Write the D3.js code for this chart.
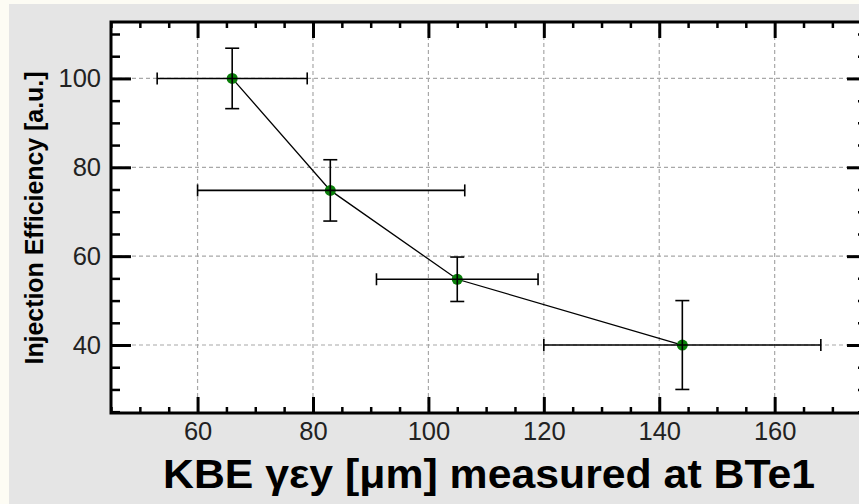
<!DOCTYPE html>
<html>
<head>
<meta charset="utf-8">
<script src="https://cdn.jsdelivr.net/npm/d3@7"></script>
<style>
  html, body { margin: 0; padding: 0; background: #fdfcf4; }
  svg { display: block; }
</style>
</head>
<body>
<svg id="chart"></svg>
<script>
// measured points (emittance vs efficiency)
var emitX = [66, 83, 105, 144];
var effY = [100, 74.8, 54.8, 40];
var effErr = [6.8, 6.9, 5, 10];
var emitLo = [53, 60, 91, 120];
var emitHi = [79, 106.3, 119, 168];

var xMajor = [60, 80, 100, 120, 140, 160];
var yMajor = [40, 60, 80, 100];

var W = 859, H = 504;
var plotL = 111, plotT = 22, plotB = 413, plotR = 867;

var svg = d3.select('#chart').attr('width', W).attr('height', H);

// grey panel
svg.append('rect').attr('x', 9).attr('y', 4).attr('width', W).attr('height', H).attr('fill', '#e5e5e5');
svg.append('rect').attr('x', plotL).attr('y', plotT).attr('width', plotR - plotL).attr('height', plotB - plotT).attr('fill', '#fff');

var x = d3.scaleLinear().domain([45, 176]).range([plotL, plotR]);
var y = d3.scaleLinear().domain([24.7, 112.7]).range([plotB, plotT]);

var xMinor = d3.range(45, 176, 5).filter(function(v) { return v % 20 != 0; });
var yMinor = d3.range(25, 113, 5).filter(function(v) { return v % 20 != 0; });

// grid
var grid = svg.append('g').attr('stroke', '#a8a8a8').attr('stroke-width', 1.2).attr('stroke-dasharray', '4,3');
grid.selectAll('.gx').data(xMajor).enter().append('line')
  .attr('x1', function(d) { return x(d); }).attr('x2', function(d) { return x(d); })
  .attr('y1', plotT).attr('y2', plotB);
grid.selectAll('.gy').data(yMajor).enter().append('line')
  .attr('y1', function(d) { return y(d); }).attr('y2', function(d) { return y(d); })
  .attr('x1', plotL).attr('x2', plotR);

function styleAxis(g, w) {
  g.select('.domain').remove();
  g.selectAll('.tick line').attr('stroke', '#000').attr('stroke-width', w);
  g.selectAll('.tick text')
    .attr('fill', '#222')
    .style('font-family', '"Liberation Sans", Arial, sans-serif')
    .style('font-size', '25.5px');
}

// bottom
svg.append('g').attr('transform', 'translate(0,' + plotB + ')')
  .call(d3.axisBottom(x).tickValues(xMajor).tickSize(-16).tickPadding(9).tickFormat(d3.format('d')))
  .call(styleAxis, 3);
svg.append('g').attr('transform', 'translate(0,' + plotB + ')')
  .call(d3.axisBottom(x).tickValues(xMinor).tickSize(-6).tickFormat(''))
  .call(styleAxis, 2.5);
// top
svg.append('g').attr('transform', 'translate(0,' + plotT + ')')
  .call(d3.axisTop(x).tickValues(xMajor).tickSize(-16).tickFormat(''))
  .call(styleAxis, 3);
svg.append('g').attr('transform', 'translate(0,' + plotT + ')')
  .call(d3.axisTop(x).tickValues(xMinor).tickSize(-6).tickFormat(''))
  .call(styleAxis, 2.5);
// left
svg.append('g').attr('transform', 'translate(' + plotL + ',0)')
  .call(d3.axisLeft(y).tickValues(yMajor).tickSize(-20).tickPadding(10).tickFormat(d3.format('d')))
  .call(styleAxis, 3);
svg.append('g').attr('transform', 'translate(' + plotL + ',0)')
  .call(d3.axisLeft(y).tickValues(yMinor).tickSize(-9).tickFormat(''))
  .call(styleAxis, 2.5);
// right
svg.append('g').attr('transform', 'translate(' + plotR + ',0)')
  .call(d3.axisRight(y).tickValues(yMajor).tickSize(-20).tickFormat(''))
  .call(styleAxis, 3);
svg.append('g').attr('transform', 'translate(' + plotR + ',0)')
  .call(d3.axisRight(y).tickValues(yMinor).tickSize(-9).tickFormat(''))
  .call(styleAxis, 2.5);

// frame
svg.append('rect').attr('x', plotL).attr('y', plotT).attr('width', plotR - plotL).attr('height', plotB - plotT)
  .attr('fill', 'none').attr('stroke', '#000').attr('stroke-width', 3);

var pts = emitX.map(function(v, i) { return {x: v, y: effY[i], e: effErr[i], lo: emitLo[i], hi: emitHi[i]}; });

// connecting line
svg.append('path').datum(pts)
  .attr('d', d3.line().x(function(d) { return x(d.x); }).y(function(d) { return y(d.y); }))
  .attr('fill', 'none').attr('stroke', '#000').attr('stroke-width', 1.3);

// markers
svg.selectAll('.pt').data(pts).enter().append('circle')
  .attr('cx', function(d) { return x(d.x); }).attr('cy', function(d) { return y(d.y); })
  .attr('r', 5.5).attr('fill', '#0a800a');

// error bars
var eb = svg.append('g').attr('stroke', '#000').attr('stroke-width', 1.6).attr('fill', 'none');
pts.forEach(function(d) {
  var cx = x(d.x), cy = y(d.y);
  eb.append('line').attr('x1', cx).attr('x2', cx).attr('y1', y(d.y + d.e)).attr('y2', y(d.y - d.e));
  eb.append('line').attr('x1', cx - 7).attr('x2', cx + 7).attr('y1', y(d.y + d.e)).attr('y2', y(d.y + d.e));
  eb.append('line').attr('x1', cx - 7).attr('x2', cx + 7).attr('y1', y(d.y - d.e)).attr('y2', y(d.y - d.e));
  eb.append('line').attr('x1', x(d.lo)).attr('x2', x(d.hi)).attr('y1', cy).attr('y2', cy);
  eb.append('line').attr('x1', x(d.lo)).attr('x2', x(d.lo)).attr('y1', cy - 6).attr('y2', cy + 6);
  eb.append('line').attr('x1', x(d.hi)).attr('x2', x(d.hi)).attr('y1', cy - 6).attr('y2', cy + 6);
});

// axis titles
svg.append('text')
  .attr('x', 163).attr('y', 488)
  .attr('textLength', 652).attr('lengthAdjust', 'spacingAndGlyphs')
  .style('font-family', '"Liberation Sans", Arial, sans-serif').style('font-weight', 'bold').style('font-size', '40px')
  .text('KBE γεy [μm] measured at BTe1');

svg.append('text')
  .attr('transform', 'translate(43,218) rotate(-90)')
  .attr('text-anchor', 'middle')
  .attr('textLength', 293).attr('lengthAdjust', 'spacingAndGlyphs')
  .style('font-family', '"Liberation Sans", Arial, sans-serif').style('font-weight', 'bold').style('font-size', '26px')
  .text('Injection Efficiency [a.u.]');
</script>
</body>
</html>
